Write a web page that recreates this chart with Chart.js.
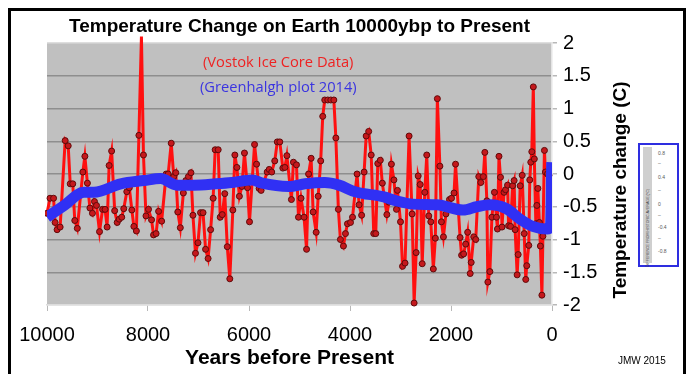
<!DOCTYPE html>
<html>
<head>
<meta charset="utf-8">
<script src="https://cdn.jsdelivr.net/npm/chart.js@4.4.1/dist/chart.umd.min.js"></script>
<style>
  html, body { margin: 0; padding: 0; background: #fff; }
  #wrap { position: relative; width: 686px; height: 374px; overflow: hidden; }
  #frame {
    position: absolute; left: 8px; top: 8px; width: 672px; height: 400px;
    border: 3px solid #000; pointer-events: none;
  }
  #inset {
    position: absolute; left: 638px; top: 143px; width: 37px; height: 120px;
    border: 2px solid #2e2ee0; background: #fff;
    font-family: "Liberation Sans", Arial, sans-serif; color: #555;
  }
  #inset .strip {
    position: absolute; left: 3px; top: 2px; width: 9px; height: 116px; background: #cfcfcf;
  }
  #inset .strip span {
    position: absolute; left: 50%; top: 70%; white-space: nowrap;
    font-size: 3.6px; transform: translate(-50%, -50%) rotate(-90deg); color: #444;
  }
  #inset .tk { position: absolute; left: 18px; font-size: 5px; line-height: 5px; }
</style>
</head>
<body>
<div id="wrap">
  <canvas id="chart" width="686" height="374"></canvas>
  <div id="frame"></div>
  <div id="inset">
    <div class="strip"><span>DIFFERENCE FROM HISTORIC AVERAGE (°C)</span></div>
    <div class="tk" style="top:6px">0.8</div>
    <div class="tk" style="top:16px">–</div>
    <div class="tk" style="top:30px">0.4</div>
    <div class="tk" style="top:43px">–</div>
    <div class="tk" style="top:57px">0</div>
    <div class="tk" style="top:68px">–</div>
    <div class="tk" style="top:80px">-0.4</div>
    <div class="tk" style="top:91px">–</div>
    <div class="tk" style="top:104px">-0.8</div>
  </div>
</div>
<script>
'use strict';

// ── Data ─────────────────────────────────────────────────────────────────────
const vostokYears = [
  10000, 9940, 9870, 9840, 9800, 9740, 9640, 9580, 9540, 9490, 9450, 9400, 9290, 9250, 9200,
  9150, 9100, 9060, 9020, 8960, 8900, 8850, 8810, 8770, 8720, 8660, 8610, 8570, 8520, 8480,
  8420, 8370, 8320, 8280, 8230, 8180, 8130, 8090, 8040, 7990, 7930, 7890, 7840, 7790, 7730,
  7640, 7600, 7540, 7490, 7450, 7410, 7360, 7300, 7250, 7200, 7150, 7110, 7060, 7010, 6960,
  6910, 6860, 6810, 6760, 6710, 6670, 6610, 6570, 6530, 6480, 6430, 6380, 6320, 6280, 6240,
  6190, 6140, 6090, 6030, 5990, 5890, 5850, 5800, 5760, 5640, 5600, 5550, 5490, 5440, 5390,
  5330, 5290, 5250, 5160, 5120, 5060, 5020, 4970, 4910, 4860, 4820, 4770, 4730, 4670, 4630,
  4580, 4540, 4500, 4440, 4380, 4320, 4280, 4230, 4190, 4130, 4090, 4050, 3990, 3950, 3860,
  3820, 3770, 3720, 3680, 3630, 3580, 3530, 3490, 3450, 3400, 3360, 3270, 3230, 3180, 3130,
  3080, 3060, 3000, 2960, 2910, 2830, 2770, 2730, 2690, 2650, 2610, 2570, 2520, 2480, 2440,
  2400, 2350, 2310, 2270, 2220, 2190, 2150, 2100, 2030, 1990, 1940, 1910, 1820, 1790, 1750,
  1710, 1670, 1620, 1600, 1550, 1510, 1450, 1410, 1360, 1330, 1290, 1270, 1230, 1190, 1140,
  1100, 1080, 1050, 1020, 990, 950, 920, 880, 860, 820, 780, 750, 730, 690, 670,
  630, 590, 550, 520, 500, 460, 440, 420, 400, 370, 350, 320, 300, 280, 250,
  230, 200, 180, 150, 130, 90, 60
];
const vostokTemps = [
  -0.60, -0.37, -0.37, -0.74, -0.85, -0.81, 0.51, 0.43, -0.15, -0.15, -0.71, -0.83, 0.03, 0.27, -0.14,
  -0.52, -0.60, -0.42, -0.48, -0.88, -0.54, -0.54, -0.81, 0.13, 0.35, -0.56, -0.74, -0.69, -0.66, -0.53,
  -0.27, -0.21, -0.55, -0.80, -0.87, 0.59, 2.10, 0.29, -0.64, -0.54, -0.70, -0.93, -0.91, -0.57, -0.72,
  0.00, 0.00, 0.47, -0.04, 0.02, -0.58, -0.82, -0.29, -0.10, -0.04, 0.02, -0.63, -1.21, -1.05, -0.59,
  -0.59, -1.15, -1.29, -0.85, -0.37, 0.37, 0.37, -0.66, -0.62, -0.30, -1.11, -1.60, -0.55, 0.29, 0.10,
  -0.34, -0.19, 0.32, -0.21, -0.73, 0.45, 0.15, -0.22, -0.25, 0.03, 0.07, 0.03, 0.20, 0.49, 0.49,
  0.09, 0.10, 0.28, -0.39, 0.18, 0.14, -0.66, -0.37, -0.66, -1.15, 0.00, 0.24, -0.58, -0.89, -0.34,
  0.20, 0.88, 1.13, 1.13, 1.13, 1.13, 0.55, -0.54, -1.00, -1.10, -0.91, -0.76, -0.74, -0.66, 0.00,
  -0.47, -0.63, 0.03, 0.58, 0.65, 0.29, -0.91, -0.91, 0.16, 0.21, -0.14, -0.62, -0.43, 0.15, -0.09,
  -0.54, -0.25, -0.73, -1.41, -1.36, 0.58, -0.61, -1.97, -1.20, -0.03, -0.16, -1.37, -0.28, 0.29, -0.64,
  -0.73, -1.45, -0.98, 1.15, 0.12, -0.73, -0.96, -0.61, -0.39, -0.37, -0.29, 0.15, -0.97, -1.24, -1.22,
  -1.07, -0.89, -1.52, -1.35, -0.96, -1.00, -0.04, -0.13, -0.04, 0.33, -0.41, -1.65, -1.49, -0.66, -0.28,
  -0.66, -0.84, 0.27, -0.05, -0.81, -0.28, -0.24, -0.17, -0.79, -0.80, -0.18, -0.10, -0.85, -1.54, -1.23,
  -0.18, -0.02, -0.91, -1.61, -1.40, -1.09, -0.09, 0.18, 0.34, 1.33, 0.23, -0.76, -0.48, -0.22, -0.74,
  -1.10, -1.85, -0.95, 0.36, 0.03, 0.00, -0.02
];

const greenhalghYears = [
  10000, 9660, 9270, 9070, 8540, 8080, 7750, 7430, 7090, 6650, 6340, 5940, 5740, 5210, 4890,
  4500, 4220, 3900, 3330, 3080, 2750, 2280, 1760, 1490, 1230, 900, 630, 380, 100, 30, 5
];
const greenhalghTemps = [
  -0.66, -0.48, -0.28, -0.28, -0.15, -0.10, -0.07, -0.17, -0.17, -0.15, -0.13, -0.09, -0.14, -0.19, -0.15,
  -0.13, -0.17, -0.27, -0.35, -0.41, -0.46, -0.47, -0.55, -0.50, -0.47, -0.53, -0.69, -0.80, -0.84, -0.81, 0.18
];

const yTicksMin = -2;
const yTicksMax = 2;
const yStep = 0.5;
const xTicksMin = 0;
const xTicksMax = 10000;
const xStep = 2000;

const FONT = '"Liberation Sans", Arial, Helvetica, sans-serif';
const NOTE_FONT = '"Open Sans", "Noto Sans", sans-serif';

// ── Plugins ──────────────────────────────────────────────────────────────────
const plotBackground = {
  id: 'plotBackground',
  beforeDraw(chart) {
    const { ctx, chartArea: a } = chart;
    ctx.save();
    ctx.fillStyle = '#c0c0c0';
    ctx.fillRect(a.left, a.top, a.right - a.left, a.bottom - a.top);
    ctx.restore();
  },
};

const textLabels = {
  id: 'textLabels',
  afterDraw(chart) {
    const { ctx, chartArea: a } = chart;
    const cx = (a.left + a.right) / 2;
    ctx.save();
    ctx.fillStyle = '#000';
    ctx.textBaseline = 'alphabetic';

    ctx.font = 'bold 19px ' + FONT;
    ctx.textAlign = 'center';
    ctx.fillText('Temperature Change on Earth 10000ybp to Present', cx, 32);

    ctx.font = 'bold 21px ' + FONT;
    ctx.fillText('Years before Present', cx - 10, 364);

    ctx.font = '10px ' + FONT;
    ctx.textAlign = 'left';
    ctx.fillText('JMW 2015', 618, 364);

    ctx.font = '14.7px ' + NOTE_FONT;
    ctx.fillStyle = '#ee2222';
    ctx.fillText('(Vostok Ice Core Data)', 203, 67);
    ctx.fillStyle = '#3a34e0';
    ctx.fillText('(Greenhalgh plot 2014)', 200, 92);

    ctx.translate(621, (a.top + a.bottom) / 2 + 16);
    ctx.rotate(-Math.PI / 2);
    ctx.fillStyle = '#000';
    ctx.font = 'bold 19px ' + FONT;
    ctx.textAlign = 'center';
    ctx.textBaseline = 'middle';
    ctx.fillText('Temperature change (C)', 0, 0);
    ctx.restore();
  },
};

// ── Chart ────────────────────────────────────────────────────────────────────
const ctx = document.getElementById('chart').getContext('2d');

new Chart(ctx, {
  type: 'line',
  data: {
    datasets: [
      {
        label: 'Greenhalgh plot 2014',
        data: greenhalghYears.map((x, i) => ({ x, y: greenhalghTemps[i] })),
        borderColor: '#3030f4',
        borderWidth: 11,
        pointRadius: 0,
        cubicInterpolationMode: 'monotone',
        order: 0,
      },
      {
        label: 'Vostok Ice Core Data',
        data: vostokYears.map((x, i) => ({ x, y: vostokTemps[i] })),
        borderColor: '#ff1010',
        borderWidth: 3,
        pointRadius: 3,
        pointBackgroundColor: '#c4181c',
        pointBorderColor: '#600a0a',
        pointBorderWidth: 1,
        tension: 0,
        clip: { left: 2, top: 10, right: 2, bottom: 2 },
        order: 1,
      },
    ],
  },
  options: {
    responsive: false,
    animation: false,
    layout: { padding: { left: 47, top: 43, right: 0, bottom: 0 } },
    plugins: {
      legend: { display: false },
      title: { display: false },
      tooltip: { enabled: false },
    },
    scales: {
      x: {
        type: 'linear',
        reverse: true,
        min: xTicksMin,
        max: xTicksMax,
        afterFit(scale) { scale.height = 69; },
        ticks: {
          stepSize: xStep,
          color: '#000',
          padding: 12,
          maxRotation: 0,
          font: { family: FONT, size: 20 },
          callback: v => String(v),
        },
        grid: {
          drawOnChartArea: false,
          drawTicks: true,
          tickLength: 6,
          tickColor: '#b8b8b8',
        },
        border: { display: true, color: '#dcdcdc', width: 1.5 },
      },
      y: {
        position: 'right',
        min: yTicksMin,
        max: yTicksMax,
        afterFit(scale) { scale.width = 134; },
        ticks: {
          stepSize: yStep,
          color: '#000',
          padding: 6,
          font: { family: FONT, size: 20 },
          callback: v => String(Math.round(v * 10) / 10),
        },
        grid: {
          color: c => (c.tick && Math.abs(c.tick.value) === 2 ? '#dedede' : '#8e8e8e'),
          lineWidth: 1.5,
          tickLength: 5,
          tickColor: '#b8b8b8',
        },
        border: { display: true, color: '#e4e4e4', width: 1.5 },
      },
    },
  },
  plugins: [plotBackground, textLabels],
});
</script>
</body>
</html>
